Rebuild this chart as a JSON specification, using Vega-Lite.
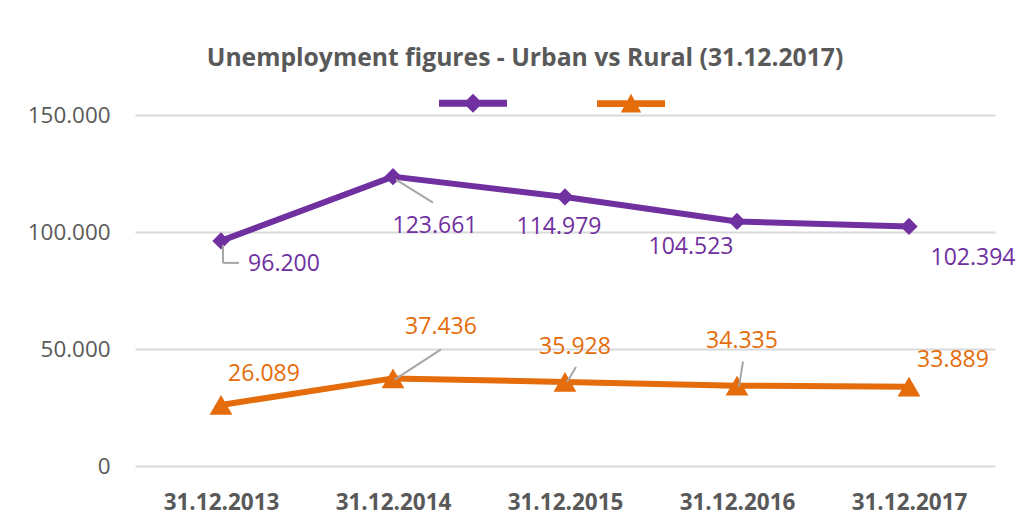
{
  "$schema": "https://vega.github.io/schema/vega-lite/v6.json",
  "width": 860,
  "height": 351,
  "autosize": {"type": "none"},
  "padding": {"left": 135, "top": 115, "right": 27, "bottom": 56},
  "background": "white",
  "config": {
    "view": {"stroke": null},
    "font": "Open Sans",
    "locale": {"number": {"decimal": ",", "thousands": ".", "grouping": [3], "currency": ["", " €"]}}
  },
  "title": {
    "text": "Unemployment figures - Urban vs Rural (31.12.2017)",
    "font": "Open Sans",
    "fontSize": 24.7,
    "fontWeight": "bold",
    "color": "#595959",
    "anchor": "middle",
    "dx": -40,
    "offset": -22,
    "baseline": "alphabetic"
  },
  "data": {
    "values": [
      {"date": "31.12.2013", "series": "Urban", "value": 96200},
      {"date": "31.12.2014", "series": "Urban", "value": 123661},
      {"date": "31.12.2015", "series": "Urban", "value": 114979},
      {"date": "31.12.2016", "series": "Urban", "value": 104523},
      {"date": "31.12.2017", "series": "Urban", "value": 102394},
      {"date": "31.12.2013", "series": "Rural", "value": 26089},
      {"date": "31.12.2014", "series": "Rural", "value": 37436},
      {"date": "31.12.2015", "series": "Rural", "value": 35928},
      {"date": "31.12.2016", "series": "Rural", "value": 34335},
      {"date": "31.12.2017", "series": "Rural", "value": 33889}
    ]
  },
  "encoding": {
    "x": {
      "field": "date",
      "type": "ordinal",
      "scale": {"type": "point", "padding": 0.5},
      "axis": {
        "title": null,
        "domain": false,
        "ticks": false,
        "grid": false,
        "labelAngle": 0,
        "labelFont": "Open Sans",
        "labelFontSize": 22.5,
        "labelFontWeight": "bold",
        "labelColor": "#595959",
        "labelBaseline": "alphabetic",
        "labelPadding": 43
      }
    },
    "y": {
      "field": "value",
      "type": "quantitative",
      "scale": {"domain": [0, 150000], "nice": false},
      "axis": {
        "title": null,
        "domain": false,
        "ticks": false,
        "values": [0, 50000, 100000, 150000],
        "format": ",d",
        "labelFont": "Open Sans",
        "labelFontSize": 22.4,
        "labelColor": "#595959",
        "labelPadding": 25,
        "gridColor": "#D9D9D9",
        "gridWidth": 2
      }
    }
  },
  "layer": [
    {
      "mark": {"type": "line", "strokeWidth": 6, "strokeJoin": "round"},
      "encoding": {
        "color": {
          "field": "series",
          "type": "nominal",
          "scale": {"domain": ["Urban", "Rural"], "range": ["#7030A0", "#E46C0A"]},
          "legend": {
            "orient": "none",
            "legendX": 304,
            "legendY": -46,
            "direction": "horizontal",
            "title": null,
            "padding": 0,
            "labelExpr": "''",
            "labelOffset": 0,
            "symbolSize": 4624,
            "symbolStrokeWidth": 0,
            "columnPadding": 90,
            "encode": {
              "symbols": {
                "update": {
                  "shape": {"signal": "datum.value === 'Urban' ? 'M-1,-0.1L1,-0.1L1,0.1L-1,0.1Z M0,-0.28L0.28,0L0,0.28L-0.28,0Z' : 'M-1,-0.1L1,-0.1L1,0.1L-1,0.1Z M0,-0.29L0.3,0.26L-0.3,0.26Z'"},
                  "fill": {"scale": "color", "field": "value"},
                  "fillOpacity": {"value": 1},
                  "stroke": {"value": "transparent"}
                }
              }
            }
          }
        }
      }
    },
    {
      "transform": [{"filter": "datum.series === 'Urban'"}],
      "mark": {"type": "point", "shape": "diamond", "filled": true, "opacity": 1, "size": 300, "color": "#7030A0"}
    },
    {
      "transform": [{"filter": "datum.series === 'Rural'"}],
      "mark": {"type": "point", "shape": "triangle-up", "filled": true, "opacity": 1, "size": 520, "color": "#E46C0A"}
    },
    {
      "transform": [{"filter": "datum.series === 'Urban' && datum.date === '31.12.2013'"}],
      "mark": {"type": "rule", "color": "#A6A6A6", "strokeWidth": 2, "xOffset": 2, "x2Offset": 2, "yOffset": 4, "y2Offset": 22},
      "encoding": {"x2": {"field": "date"}, "y2": {"field": "value"}}
    },
    {
      "transform": [{"filter": "datum.series === 'Urban' && datum.date === '31.12.2013'"}],
      "mark": {"type": "rule", "color": "#A6A6A6", "strokeWidth": 2, "xOffset": 2, "x2Offset": 18, "yOffset": 22, "y2Offset": 22},
      "encoding": {"x2": {"field": "date"}, "y2": {"field": "value"}}
    },
    {
      "transform": [{"filter": "datum.series === 'Urban' && datum.date === '31.12.2014'"}],
      "mark": {"type": "rule", "color": "#A6A6A6", "strokeWidth": 2, "xOffset": 3, "x2Offset": 40, "yOffset": 3, "y2Offset": 26},
      "encoding": {"x2": {"field": "date"}, "y2": {"field": "value"}}
    },
    {
      "transform": [{"filter": "datum.series === 'Rural' && datum.date === '31.12.2014'"}],
      "mark": {"type": "rule", "color": "#A6A6A6", "strokeWidth": 2, "xOffset": 2, "x2Offset": 48, "yOffset": 1, "y2Offset": -29},
      "encoding": {"x2": {"field": "date"}, "y2": {"field": "value"}}
    },
    {
      "transform": [{"filter": "datum.series === 'Rural' && datum.date === '31.12.2015'"}],
      "mark": {"type": "rule", "color": "#A6A6A6", "strokeWidth": 2, "xOffset": 2, "x2Offset": 11, "yOffset": 0, "y2Offset": -15},
      "encoding": {"x2": {"field": "date"}, "y2": {"field": "value"}}
    },
    {
      "transform": [{"filter": "datum.series === 'Rural' && datum.date === '31.12.2016'"}],
      "mark": {"type": "rule", "color": "#A6A6A6", "strokeWidth": 2, "xOffset": 2, "x2Offset": 6, "yOffset": 1, "y2Offset": -24},
      "encoding": {"x2": {"field": "date"}, "y2": {"field": "value"}}
    },
    {
      "transform": [{"filter": "datum.series === 'Urban' && datum.date === '31.12.2013'"}],
      "mark": {"type": "text", "fontSize": 23, "color": "#7030A0", "dx": 63, "dy": 23, "baseline": "middle"},
      "encoding": {"text": {"field": "value", "type": "quantitative", "format": ",d"}}
    },
    {
      "transform": [{"filter": "datum.series === 'Urban' && datum.date === '31.12.2014'"}],
      "mark": {"type": "text", "fontSize": 23, "color": "#7030A0", "dx": 42, "dy": 49, "baseline": "middle"},
      "encoding": {"text": {"field": "value", "type": "quantitative", "format": ",d"}}
    },
    {
      "transform": [{"filter": "datum.series === 'Urban' && datum.date === '31.12.2015'"}],
      "mark": {"type": "text", "fontSize": 23, "color": "#7030A0", "dx": -6, "dy": 30, "baseline": "middle"},
      "encoding": {"text": {"field": "value", "type": "quantitative", "format": ",d"}}
    },
    {
      "transform": [{"filter": "datum.series === 'Urban' && datum.date === '31.12.2016'"}],
      "mark": {"type": "text", "fontSize": 23, "color": "#7030A0", "dx": -46, "dy": 26, "baseline": "middle"},
      "encoding": {"text": {"field": "value", "type": "quantitative", "format": ",d"}}
    },
    {
      "transform": [{"filter": "datum.series === 'Urban' && datum.date === '31.12.2017'"}],
      "mark": {"type": "text", "fontSize": 23, "color": "#7030A0", "dx": 64, "dy": 32, "baseline": "middle"},
      "encoding": {"text": {"field": "value", "type": "quantitative", "format": ",d"}}
    },
    {
      "transform": [{"filter": "datum.series === 'Rural' && datum.date === '31.12.2013'"}],
      "mark": {"type": "text", "fontSize": 23, "color": "#E46C0A", "dx": 43, "dy": -31, "baseline": "middle"},
      "encoding": {"text": {"field": "value", "type": "quantitative", "format": ",d"}}
    },
    {
      "transform": [{"filter": "datum.series === 'Rural' && datum.date === '31.12.2014'"}],
      "mark": {"type": "text", "fontSize": 23, "color": "#E46C0A", "dx": 48, "dy": -51, "baseline": "middle"},
      "encoding": {"text": {"field": "value", "type": "quantitative", "format": ",d"}}
    },
    {
      "transform": [{"filter": "datum.series === 'Rural' && datum.date === '31.12.2015'"}],
      "mark": {"type": "text", "fontSize": 23, "color": "#E46C0A", "dx": 10, "dy": -35, "baseline": "middle"},
      "encoding": {"text": {"field": "value", "type": "quantitative", "format": ",d"}}
    },
    {
      "transform": [{"filter": "datum.series === 'Rural' && datum.date === '31.12.2016'"}],
      "mark": {"type": "text", "fontSize": 23, "color": "#E46C0A", "dx": 5, "dy": -45, "baseline": "middle"},
      "encoding": {"text": {"field": "value", "type": "quantitative", "format": ",d"}}
    },
    {
      "transform": [{"filter": "datum.series === 'Rural' && datum.date === '31.12.2017'"}],
      "mark": {"type": "text", "fontSize": 23, "color": "#E46C0A", "dx": 44, "dy": -27, "baseline": "middle"},
      "encoding": {"text": {"field": "value", "type": "quantitative", "format": ",d"}}
    }
  ]
}
